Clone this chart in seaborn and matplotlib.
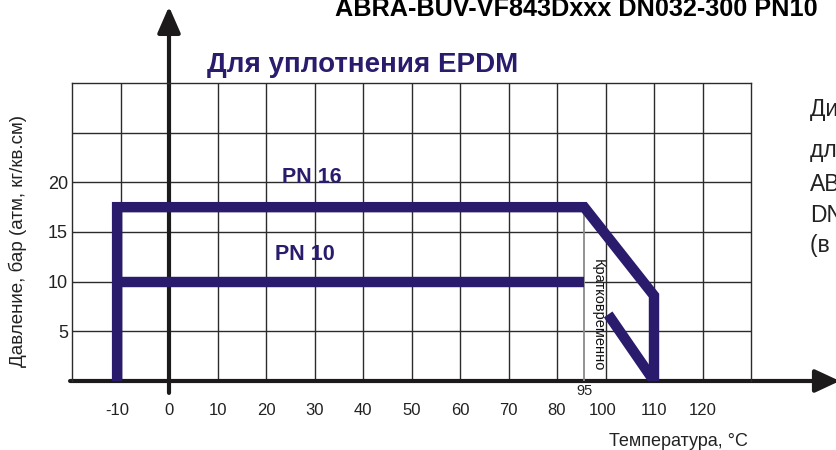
import numpy as np
import pandas as pd
import matplotlib
matplotlib.use("Agg")
import matplotlib.pyplot as plt
import seaborn as sns

# temperature values and where the drawing puts them (grid units, 10 per cell)
temp_marks = [-60, -20, -10, 0, 80, 95, 100, 110, 120, 160]
grid_marks = [-60, -20, -10.7, 0, 80, 85.6, 89.5, 100, 110, 150]

x_ticks = [-10, 0, 10, 20, 30, 40, 50, 60, 70, 80, 100, 110, 120]
y_ticks = [5, 10, 15, 20]

# PN 16 working range
pn16_temp = [-10, -10, 95, 110, 110]
pn16_bar = [0, 17.5, 17.5, 8.6, 0]
# PN 10 working range
pn10_temp = [-10, 95]
pn10_bar = [10, 10]
# PN 10 short-term part
short_temp = [101, 110]
short_bar = [6.7, 0]
# 95 degC marker
limit_temp = [95, 95]
limit_bar = [0, 17.2]

navy = "#2a1b6c"
ink = "#1c1a1a"

sns.set_style("white")
plt.rcParams["font.family"] = ["Liberation Sans", "DejaVu Sans"]


def fwd(t):
    return np.interp(t, temp_marks, grid_marks)


def inv(p):
    return np.interp(p, grid_marks, temp_marks)


fig = plt.figure(figsize=(8.36, 4.5), dpi=100)
ax = fig.add_axes([72 / 836, (450 - 381) / 450, (751 - 72) / 836, (381 - 83) / 450])
ax.set_xscale("function", functions=(fwd, inv))
ax.set_xlim(inv(-20), inv(120))
ax.set_ylim(0, 30)

# grid, one cell = 10 degC x 5 bar
ax.vlines(inv(np.arange(-10, 120, 10)), 0, 30, color="#2b2b2b", lw=1.0, zorder=1)
ax.hlines(np.arange(5, 30, 5), inv(-20), inv(120), color="#2b2b2b", lw=1.0, zorder=1)
ax.grid(False)
for s in ["left", "top", "right"]:
    ax.spines[s].set_color("#2b2b2b")
    ax.spines[s].set_linewidth(1.0)
ax.spines["bottom"].set_visible(False)

ax.set_xticks(x_ticks, [str(v) for v in x_ticks])
ax.set_yticks(y_ticks, [str(v) for v in y_ticks])
ax.minorticks_off()
ax.tick_params(which="both", length=0)
ax.tick_params(axis="x", pad=15.5, labelsize=12, labelcolor="#222222")
ax.tick_params(axis="y", pad=3, labelsize=13, labelcolor="#222222")

df = pd.DataFrame({
    "temp": pn16_temp + pn10_temp + short_temp,
    "bar": pn16_bar + pn10_bar + short_bar,
    "part": ["PN16"] * len(pn16_temp) + ["PN10"] * len(pn10_temp) + ["short"] * len(short_temp),
})
sns.lineplot(data=df, x="temp", y="bar", units="part", estimator=None, sort=False,
             color=navy, lw=7.5, solid_joinstyle="miter", solid_capstyle="butt",
             ax=ax, zorder=4)
sns.lineplot(x=limit_temp, y=limit_bar, sort=False, estimator=None, color="#8a8a8a",
             lw=1.3, ax=ax, zorder=3)

# axes with arrows
ax.annotate("", xy=(0, 37.7), xytext=(0, -1.2), annotation_clip=False, zorder=2,
            arrowprops=dict(arrowstyle="-|>,head_length=1.6,head_width=0.7", mutation_scale=10,
                            lw=3, color=ink, shrinkA=0, shrinkB=0))
ax.annotate("", xy=(inv(138.3), 0), xytext=(inv(-20.4), 0), annotation_clip=False, zorder=2,
            arrowprops=dict(arrowstyle="-|>,head_length=1.5,head_width=0.7", mutation_scale=10,
                            lw=3, color=ink, shrinkA=0, shrinkB=0))

ax.set_xlabel("Температура, °C", fontsize=13, color="#222222", va="center")
ax.xaxis.set_label_coords((678 - 72) / 679, (381 - 441) / 298)
ax.set_ylabel("Давление, бар (атм, кг/кв.см)", fontsize=13.5, color="#222222", va="center")
ax.yaxis.set_label_coords((18 - 72) / 679, (381 - 241) / 298)

ax.text(29.5, 20.5, "PN 16", color=navy, fontsize=15.5, fontweight="bold",
        ha="center", va="center")
ax.text(28, 12.7, "PN 10", color=navy, fontsize=15.5, fontweight="bold",
        ha="center", va="center")
ax.text(98.7, 6.6, "Кратковременно", fontsize=10.5, rotation=-90, ha="center", va="center",
        color="#111111")
ax.text(95, -1.0, "95", fontsize=10.5, ha="center", va="center", color="#222222")
ax.text(7.8, 31.1, "Для уплотнения EPDM", color=navy, fontsize=20, fontweight="bold",
        ha="left", va="baseline")

fig.text(335 / 836, 1 - 15.5 / 450, "ABRA-BUV-VF843Dxxx DN032-300 PN10", fontsize=18.2,
         fontweight="bold", ha="left", va="baseline", color="black")

side_lines = ["Диаграмма давление/температура", "для затворов", "ABRA-BUV-VF843Dxxx",
              "DN032-300", "(в зависимости от уплотнения)"]
side_base = [116, 157, 191, 222, 252]
for line, yb in zip(side_lines, side_base):
    fig.text(810 / 836, 1 - yb / 450, line, fontsize=16.5, ha="left", va="baseline", color="#222222")

fig.savefig("out.png", dpi=100)
